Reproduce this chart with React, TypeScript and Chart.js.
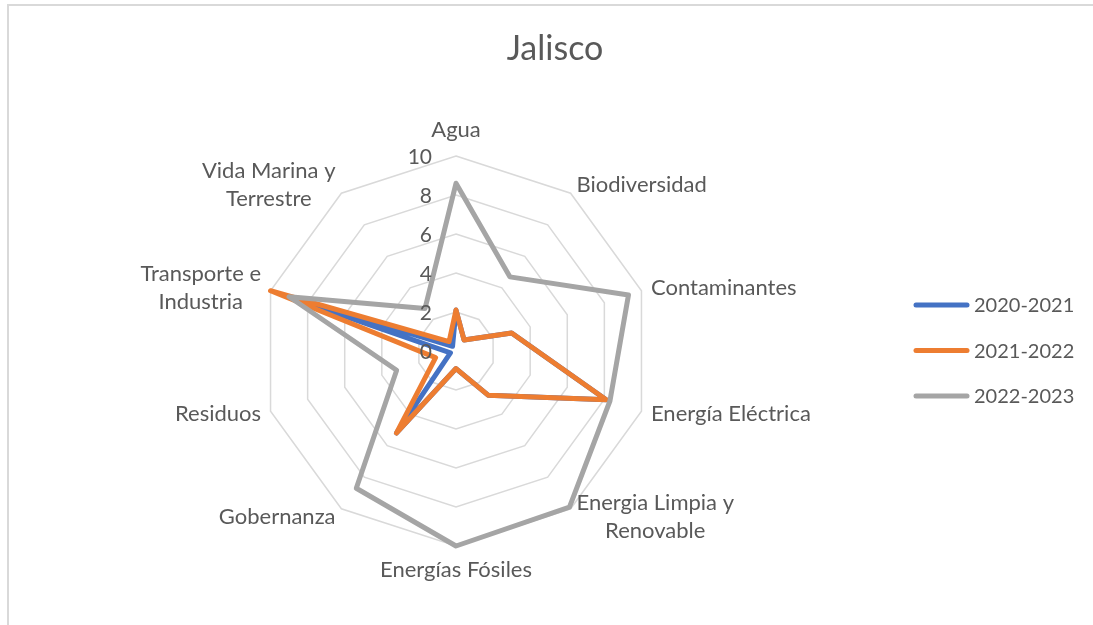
import React, { useEffect, useRef } from 'react';
import { Chart, registerables } from 'chart.js';

Chart.register(...registerables);

const TITLE = 'Jalisco';

const categories = [
  'Agua',
  'Biodiversidad',
  'Contaminantes',
  'Energía Eléctrica',
  'Energia Limpia y Renovable',
  'Energías Fósiles',
  'Gobernanza',
  'Residuos',
  'Transporte e Industria',
  'Vida Marina y Terrestre',
];

const categoryLines = [
  ['Agua'],
  ['Biodiversidad'],
  ['Contaminantes'],
  ['Energía Eléctrica'],
  ['Energia Limpia y', 'Renovable'],
  ['Energías Fósiles'],
  ['Gobernanza'],
  ['Residuos'],
  ['Transporte e', 'Industria'],
  ['Vida Marina y', 'Terrestre'],
];

const seriesNames = ['2020-2021', '2021-2022', '2022-2023'];
const values2020 = [2.1, 0.7, 3.0, 8.1, 2.8, 0.9, 5.2, 0.3, 9.0, 0.3];
const values2021 = [2.1, 0.7, 3.0, 8.1, 2.8, 0.9, 5.2, 1.1, 10.0, 0.6];
const values2022 = [8.6, 4.7, 9.3, 8.3, 9.9, 10.0, 8.7, 3.2, 9.0, 2.7];

const tickMin = 0;
const tickMax = 10;
const tickStep = 2;

const seriesColors = ['#4472C4', '#ED7D31', '#A5A5A5'];

const FONT = 'Lato, "Liberation Sans", sans-serif';
const TEXT = '#595959';
const W = 1093;
const H = 625;

const decorPlugin = {
  id: 'decor',
  beforeDraw(chart: any) {
    const ctx = chart.ctx;
    ctx.save();
    ctx.strokeStyle = '#D9D9D9';
    ctx.lineWidth = 2;
    ctx.beginPath();
    ctx.moveTo(8, H);
    ctx.lineTo(8, 5);
    ctx.lineTo(W, 5);
    ctx.stroke();
    ctx.restore();
  },
  afterDraw(chart: any) {
    const ctx = chart.ctx;
    const r = chart.scales.r;
    ctx.save();
    ctx.fillStyle = TEXT;

    // title
    ctx.font = `34px ${FONT}`;
    ctx.textAlign = 'center';
    ctx.textBaseline = 'middle';
    ctx.fillText(TITLE, 555, 49);

    // radial ticks
    ctx.font = `21px ${FONT}`;
    ctx.textAlign = 'right';
    r.ticks.forEach((t: any) => {
      const p = r.getPointPositionForValue(0, t.value);
      ctx.fillText(String(t.value), p.x - 24, p.y + 1);
    });

    // point labels
    ctx.font = `22px ${FONT}`;
    const R = r.drawingArea;
    const lh = 28;
    ctx.textAlign = 'center';
    categoryLines.forEach((lines, i) => {
      const p = r.getPointPosition(i, R + 10);
      const dx = p.x - r.xCenter;
      const blockW = Math.max(...lines.map((l) => ctx.measureText(l).width));
      const n = lines.length;
      let cx = p.x;
      let midY = p.y;
      if (Math.abs(dx) < 2) {
        if (p.y < r.yCenter) midY = p.y - 16 - ((n - 1) * lh) / 2;
        else midY = p.y + 14 + ((n - 1) * lh) / 2;
      } else if (dx > 0) {
        cx = p.x + blockW / 2;
      } else {
        cx = p.x - blockW / 2;
      }
      lines.forEach((l, j) => {
        ctx.fillText(l, cx, midY + (j - (n - 1) / 2) * lh);
      });
    });

    // legend
    ctx.font = `20px ${FONT}`;
    ctx.textAlign = 'left';
    chart.data.datasets.forEach((ds: any, i: number) => {
      const y = 305 + i * 45.5;
      ctx.strokeStyle = ds.borderColor;
      ctx.lineWidth = 5;
      ctx.lineCap = 'round';
      ctx.beginPath();
      ctx.moveTo(916, y);
      ctx.lineTo(967, y);
      ctx.stroke();
      ctx.fillStyle = TEXT;
      ctx.fillText(ds.label, 974, y + 1);
    });

    ctx.restore();
  },
};

export default function App() {
  const canvasRef = useRef<HTMLCanvasElement | null>(null);

  useEffect(() => {
    if (!canvasRef.current) return;
    const allValues = [values2020, values2021, values2022];
    const chart = new Chart(canvasRef.current, {
      type: 'radar',
      data: {
        labels: categories,
        datasets: allValues.map((vals, i) => ({
          label: seriesNames[i],
          data: vals,
          borderColor: seriesColors[i],
          backgroundColor: seriesColors[i],
          borderWidth: 5,
          borderJoinStyle: 'round' as const,
          borderCapStyle: 'round' as const,
          pointRadius: 0,
          pointHoverRadius: 0,
          fill: false,
          tension: 0,
          order: 2 - i,
        })),
      },
      options: {
        animation: false,
        responsive: false,
        maintainAspectRatio: false,
        layout: {
          padding: { left: 261, top: 156, right: W - 652, bottom: H - 547 },
        },
        plugins: {
          legend: { display: false },
          title: { display: false },
          tooltip: { enabled: false },
        },
        scales: {
          r: {
            min: tickMin,
            max: tickMax,
            ticks: { stepSize: tickStep, display: false },
            pointLabels: { display: false },
            angleLines: { display: false },
            grid: { color: '#D9D9D9', lineWidth: 1.5 },
          },
        },
      },
      plugins: [decorPlugin],
    });
    return () => chart.destroy();
  }, []);

  return (
    <div style={{ position: 'fixed', left: 0, top: 0, width: W, height: H, background: '#fff' }}>
      <canvas ref={canvasRef} width={W} height={H} style={{ display: 'block' }} />
    </div>
  );
}
